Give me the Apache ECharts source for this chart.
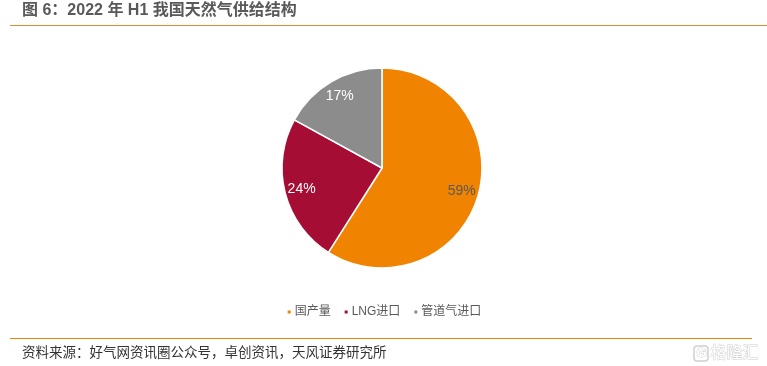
<!DOCTYPE html>
<html><head><meta charset="utf-8">
<script src="https://cdn.jsdelivr.net/npm/echarts@6/dist/echarts.min.js"></script>
<style>html,body{margin:0;padding:0;background:#fff}#c{width:767px;height:366px}</style>
</head><body><div id="c"></div>
<script>
var titleText = '图 6：2022 年 H1 我国天然气供给结构';
var sourceText = '资料来源：好气网资讯圈公众号，卓创资讯，天风证券研究所';
var categories = ['国产量', 'LNG进口', '管道气进口'];
var values = [59, 24, 17];
var colors = ['#F08400', '#A50D35', '#8C8C8C'];
var labelColors = ['#595959', '#ffffff', '#ffffff'];

var font = '"Liberation Sans", "Noto Sans CJK SC", sans-serif';
var chart = echarts.init(document.getElementById('c'));
var pieData = categories.map(function (n, i) {
  return { name: n, value: values[i], itemStyle: { color: colors[i] } };
});
var labelData = categories.map(function (n, i) {
  return { name: n, value: values[i], label: { color: labelColors[i] } };
});
chart.setOption({
  animation: false,
  backgroundColor: '#fff',
  graphic: [
    { type: 'text', left: 22, top: 3, style: { text: titleText, font: 'bold 16px ' + font, fill: '#595959' } },
    { type: 'line', shape: { x1: 10, y1: 25.5, x2: 767, y2: 25.5 }, style: { stroke: '#E8892B', lineWidth: 1.2 } },
    { type: 'line', shape: { x1: 10, y1: 338.5, x2: 752, y2: 338.5 }, style: { stroke: '#F08400', lineWidth: 1.2 } },
    { type: 'text', left: 22, top: 347, style: { text: sourceText, font: '13.5px ' + font, fill: '#333333' } },
    { type: 'rect', shape: { x: 694, y: 346, width: 14, height: 15, r: 3 }, style: { fill: '#ffffff', stroke: '#d0d0d0', lineWidth: 1.5 } },
    { type: 'text', left: 696, top: 346, style: { text: 'G', font: 'bold 13px ' + font, fill: '#ffffff', stroke: '#d0d0d0', lineWidth: 1 } },
    { type: 'text', left: 710, top: 345, style: { text: '格隆汇', font: '16px ' + font, fill: '#ffffff', stroke: '#d0d0d0', lineWidth: 1 } }
  ],
  legend: {
    data: categories,
    top: 301,
    left: 'center',
    icon: 'rect',
    itemWidth: 5,
    itemHeight: 5,
    itemGap: 12,
    textStyle: { color: '#595959', fontSize: 12, fontFamily: font, padding: [0, 0, 0, -2] }
  },
  series: [
    {
      type: 'pie',
      center: [382, 168],
      radius: [0, 100],
      startAngle: 90,
      clockwise: true,
      silent: true,
      data: pieData,
      itemStyle: { borderColor: '#fff', borderWidth: 1.5 },
      label: { show: false },
      labelLine: { show: false }
    },
    {
      type: 'pie',
      center: [382, 168],
      radius: [0, 160],
      startAngle: 90,
      clockwise: true,
      silent: true,
      legendHoverLink: false,
      data: labelData,
      itemStyle: { color: 'rgba(0,0,0,0)' },
      label: {
        show: true,
        position: 'inside',
        formatter: '{c}%',
        fontSize: 14,
        fontFamily: font
      },
      labelLine: { show: false }
    }
  ]
});
</script></body></html>
